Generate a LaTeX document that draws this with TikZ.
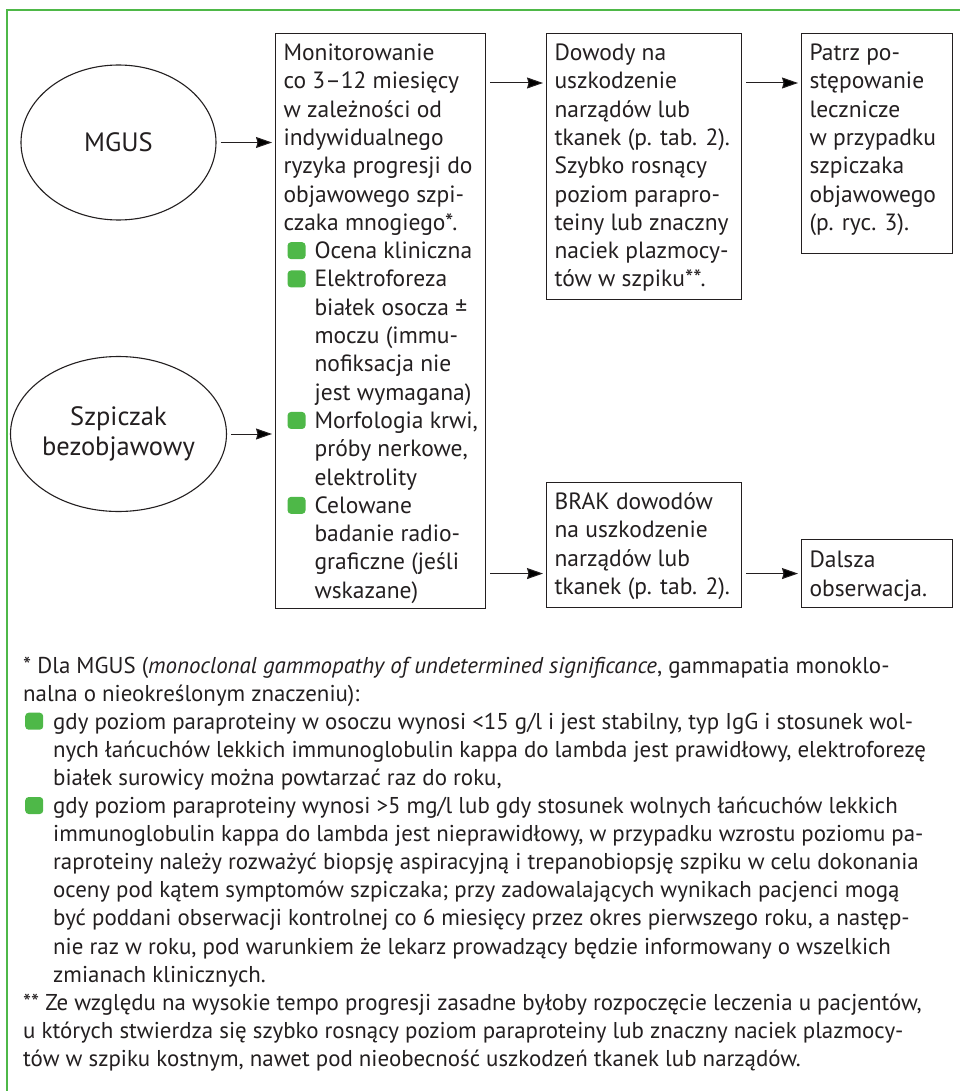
\documentclass[tikz,border=0pt]{standalone}
\usepackage{fontspec}
\setmainfont{PT Sans}
\usetikzlibrary{shapes.geometric,arrows.meta}
\definecolor{bgreen}{RGB}{78,184,72}
\definecolor{ink}{RGB}{35,31,32}
\newcommand\gbul{\tikz[baseline=0pt]\fill[bgreen,rounded corners=3.5pt] (0pt,-0.5pt) rectangle (18pt,16.5pt);}
\newcommand\Txl[1]{\noindent #1\par}
\newcommand\Bul[1]{\noindent\makebox[31pt][l]{\hspace{4pt}\gbul}#1\par}
\newcommand\Ind[1]{\noindent\hspace*{31pt}#1\par}
\newcommand\FBul[1]{\noindent\makebox[30pt][l]{\hspace{2pt}\gbul}#1\par}
\newcommand\FInd[1]{\noindent\hspace*{30pt}#1\par}
\newcommand\boxcontent[4]{\makebox[#1][l]{\vbox to #2{\hsize=2000pt\leftskip=8pt\rightskip=0pt plus 1fil\parindent=0pt\parskip=0pt #3\vskip -1.3pt\prevdepth=0pt #4\vfil}}}
\newcommand\bfont{\fontsize{23.5}{28.3}\selectfont}
\newcommand\ffont{\fontsize{22.9}{28.1}\selectfont}
\begin{document}
\begin{tikzpicture}[x=1pt,y=-1pt,
  box/.style={draw=ink, line width=1.1pt, anchor=north west, inner sep=0pt, text=ink},
  oval/.style={draw=ink, line width=1.1pt, ellipse, minimum width=195pt, minimum height=155pt, inner sep=0pt, align=center, text=ink, font=\fontsize{26.5}{30}\selectfont},
  arr/.style={draw=ink, line width=1pt, -{Stealth[length=16pt,width=11pt,inset=1.5pt]}, shorten <=4pt, shorten >=3pt}]
\fill[white] (0,0) rectangle (959,1091);
\useasboundingbox (0,0) rectangle (959,1091);
\draw[bgreen, line width=1.6pt] (7,1092) -- (7,10) -- (960,10);

\node[oval] (mgus) at (118.5,142.5) {MGUS};
\node[oval] (szp) at (118.5,434) {Szpiczak\\bezobjawowy};

\node[box] (b1) at (275,33) {\boxcontent{210pt}{575pt}{\bfont}{%
\Txl{Monitorowanie}
\Txl{co 3–12 miesięcy}
\Txl{w zależności od}
\Txl{indywidualnego}
\Txl{ryzyka progresji do}
\Txl{objawowego szpi-}
\Txl{czaka mnogiego*.}
\Bul{Ocena kliniczna}
\Bul{Elektroforeza}
\Ind{białek osocza ±}
\Ind{moczu (immu-}
\Ind{nofiksacja nie}
\Ind{jest wymagana)}
\Bul{Morfologia krwi,}
\Ind{próby nerkowe,}
\Ind{elektrolity}
\Bul{Celowane}
\Ind{badanie radio-}
\Ind{graficzne (jeśli}
\Ind{wskazane)}}};

\node[box] (b2) at (546,33) {\boxcontent{195pt}{266pt}{\bfont}{%
\Txl{Dowody na}
\Txl{uszkodzenie}
\Txl{narządów lub}
\Txl{tkanek (p. tab. 2).}
\Txl{Szybko rosnący}
\Txl{poziom parapro-}
\Txl{teiny lub znaczny}
\Txl{naciek plazmocy-}
\Txl{tów w szpiku**.}}};

\node[box] (b3) at (801,33) {\boxcontent{151pt}{220pt}{\bfont}{%
\Txl{Patrz po-}
\Txl{stępowanie}
\Txl{lecznicze}
\Txl{w przypadku}
\Txl{szpiczaka}
\Txl{objawowego}
\Txl{(p. ryc. 3).}}};

\node[box] (b4) at (546,482) {\boxcontent{195pt}{125pt}{\bfont}{%
\Txl{BRAK dowodów}
\Txl{na uszkodzenie}
\Txl{narządów lub}
\Txl{tkanek (p. tab. 2).}}};

\node[box] (b5) at (801,539) {\boxcontent{151pt}{68pt}{\fontsize{23.5}{29}\selectfont}{%
\Txl{Dalsza}
\Txl{obserwacja.}}};

\path (b2.north west) ++(0,50) coordinate (top2);
\draw[arr] (mgus.east) -- (mgus.east -| b1.west);
\draw[arr] (szp.east) -- (szp.east -| b1.west);
\draw[arr] (b1.east |- top2) -- (top2);
\draw[arr] (b2.east |- top2) -- (b3.west |- top2);
\draw[arr] (b1.east |- b5.west) -- (b4.west |- b5.west);
\draw[arr] (b4.east |- b5.west) -- (b5.west);

\node[anchor=north west, inner sep=0pt, text=ink] (fn) at (15,646) {\boxcontent{940pt}{440pt}{\ffont}{%
\Txl{* Dla MGUS (\textit{monoclonal gammopathy of undetermined significance}, gammapatia monoklo-}
\Txl{nalna o nieokreślonym znaczeniu):}
\FBul{gdy poziom paraproteiny w osoczu wynosi <15 g/l i jest stabilny, typ IgG i stosunek wol-}
\FInd{nych łańcuchów lekkich immunoglobulin kappa do lambda jest prawidłowy, elektroforezę}
\FInd{białek surowicy można powtarzać raz do roku,}
\FBul{gdy poziom paraproteiny wynosi >5 mg/l lub gdy stosunek wolnych łańcuchów lekkich}
\FInd{immunoglobulin kappa do lambda jest nieprawidłowy, w przypadku wzrostu poziomu pa-}
\FInd{raproteiny należy rozważyć biopsję aspiracyjną i trepanobiopsję szpiku w celu dokonania}
\FInd{oceny pod kątem symptomów szpiczaka; przy zadowalających wynikach pacjenci mogą}
\FInd{być poddani obserwacji kontrolnej co 6 miesięcy przez okres pierwszego roku, a następ-}
\FInd{nie raz w roku, pod warunkiem że lekarz prowadzący będzie informowany o wszelkich}
\FInd{zmianach klinicznych.}
\Txl{** Ze względu na wysokie tempo progresji zasadne byłoby rozpoczęcie leczenia u pacjentów,}
\Txl{u których stwierdza się szybko rosnący poziom paraproteiny lub znaczny naciek plazmocy-}
\Txl{tów w szpiku kostnym, nawet pod nieobecność uszkodzeń tkanek lub narządów.}}};
\end{tikzpicture}
\end{document}
